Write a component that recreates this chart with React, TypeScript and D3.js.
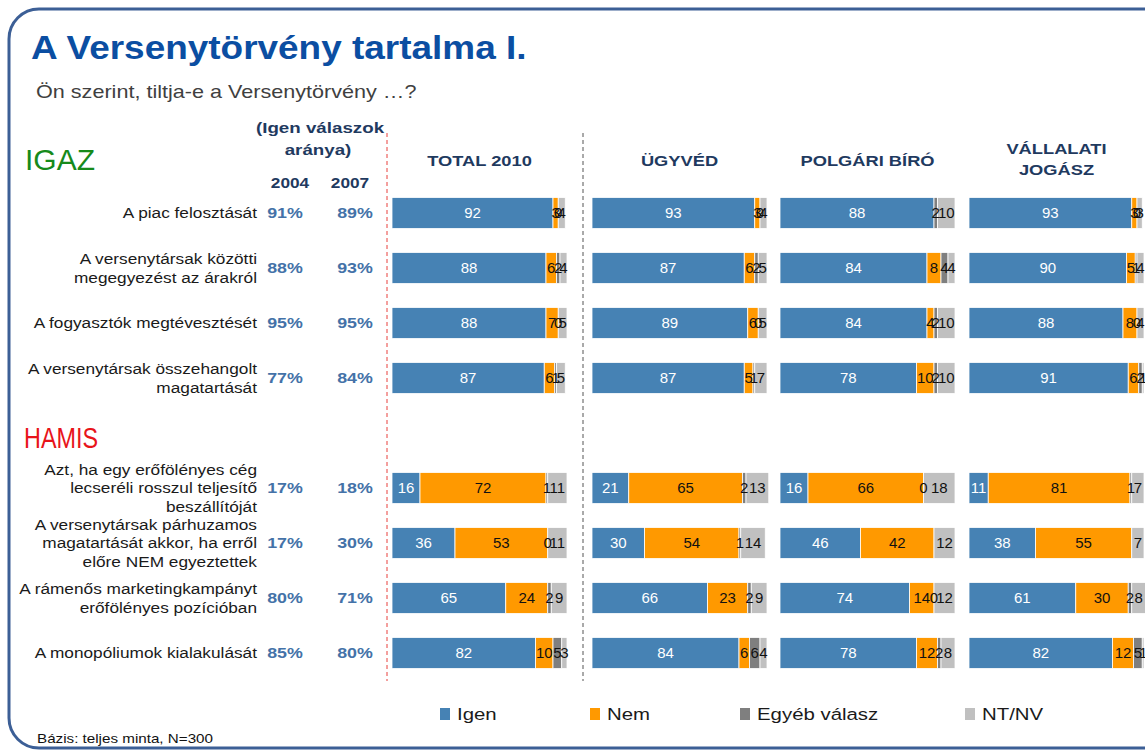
import * as d3 from 'd3';

// answer categories
const series = ['Igen', 'Nem', 'Egyéb válasz', 'NT/NV'];
const colors = ['#4682b4', '#ff9900', '#7f7f7f', '#c0c0c0'];

// statements (row labels), grouped IGAZ / HAMIS
const statements = [
  ['A piac felosztását'],
  ['A versenytársak közötti', 'megegyezést az árakról'],
  ['A fogyasztók megtévesztését'],
  ['A versenytársak összehangolt', 'magatartását'],
  ['Azt, ha egy erőfölényes cég', 'lecseréli rosszul teljesítő', 'beszállítóját'],
  ['A versenytársak párhuzamos', 'magatartását akkor, ha erről', 'előre NEM egyeztettek'],
  ['A rámenős marketingkampányt', 'erőfölényes pozícióban'],
  ['A monopóliumok kialakulását'],
];
const rowKeys = ['r1', 'r2', 'r3', 'r4', 'gap', 'r5', 'r6', 'r7', 'r8'];

const yes2004 = [91, 88, 95, 77, 17, 17, 80, 85];
const yes2007 = [89, 93, 95, 84, 18, 30, 71, 80];

const panels = [['TOTAL 2010'], ['ÜGYVÉD'], ['POLGÁRI BÍRÓ'], ['VÁLLALATI', 'JOGÁSZ']];

// [Igen, Nem, Egyéb, NT/NV] per statement, null = no label shown
const total2010 = [
  [92, 3, 0, 4], [88, 6, 2, 4], [88, 7, 0, 5], [87, 6, 1, 5],
  [16, 72, 1, 11], [36, 53, 0, 11], [65, 24, 2, 9], [82, 10, 5, 3],
];
const ugyved = [
  [93, 3, 0, 4], [87, 6, 2, 5], [89, 6, 0, 5], [87, 5, 1, 7],
  [21, 65, 2, 13], [30, 54, 1, 14], [66, 23, 2, 9], [84, 6, 6, 4],
];
const polgariBiro = [
  [88, null, 2, 10], [84, 8, 4, 4], [84, 4, 2, 10], [78, 10, 2, 10],
  [16, 66, 0, 18], [46, 42, null, 12], [74, 14, 0, 12], [78, 12, 2, 8],
];
const vallalatiJogasz = [
  [93, 3, 0, 3], [90, 5, 1, 4], [88, 8, 0, 4], [91, 6, 2, 1],
  [11, 81, 1, 7], [38, 55, null, 7], [61, 30, 2, 8], [82, 12, 5, 1],
];
const panelData = [total2010, ugyved, polgariBiro, vallalatiJogasz];

const FONT = 'Arial, "Liberation Sans", sans-serif';
const NAVY = '#1f3a5f';
const PCT = '#4472a8';
const SX = 1.2; // slide text is stretched horizontally

// stretched slide text
function T({ x, y, sx = SX, anchor = 'start', children, ...rest }: any) {
  return (
    <text transform={`translate(${x},${y}) scale(${sx},1)`} textAnchor={anchor} {...rest}>
      {children}
    </text>
  );
}

export default function App() {
  const W = 1145;
  const H = 753;
  const panelLeft = [392, 592, 780, 969];
  const panelW = 175;

  const y = d3.scaleBand<string>().domain(rowKeys).range([185.5, 680.5]).paddingInner(0.436).paddingOuter(0.218);
  const x = d3.scaleLinear().domain([0, 100]).range([0, panelW]);
  const rowY = (i: number) => {
    const key = rowKeys.filter((k) => k !== 'gap')[i];
    return (y(key) as number) + y.bandwidth() / 2;
  };

  const legendX = [440, 590, 740, 965];

  return (
    <div style={{ position: 'absolute', left: 0, top: 0 }}>
      <svg width={W} height={H} style={{ display: 'block', fontFamily: FONT }}>
        <rect x={0} y={0} width={W} height={H} fill="#fff" />
        <rect x={9} y={9} width={1165} height={739} rx={30} fill="none" stroke="#3c5f96" strokeWidth={3} />

        <T x={31} y={59} sx={1.12} fontSize={33} fontWeight="bold" fill="#0b4ea2">A Versenytörvény tartalma I.</T>
        <T x={36} y={98} fontSize={18} fill="#404040">Ön szerint, tiltja-e a Versenytörvény …?</T>

        <T x={320} y={133} sx={1.25} anchor="middle" fontSize={15} fontWeight="bold" fill={NAVY}>(Igen válaszok</T>
        <T x={318} y={155} sx={1.25} anchor="middle" fontSize={15} fontWeight="bold" fill={NAVY}>aránya)</T>
        <T x={290} y={188} sx={1.15} anchor="middle" fontSize={15} fontWeight="bold" fill={NAVY}>2004</T>
        <T x={350} y={188} sx={1.15} anchor="middle" fontSize={15} fontWeight="bold" fill={NAVY}>2007</T>

        <T x={25} y={170} sx={1.0} fontSize={30} fill="#168a1a">IGAZ</T>
        <T x={24} y={448} sx={0.78} fontSize={30} fill="#e8141a">HAMIS</T>

        <line x1={387} x2={387} y1={133} y2={681} stroke="#e8413c" strokeWidth={1} strokeDasharray="4,3" />
        <line x1={583} x2={583} y1={133} y2={681} stroke="#555" strokeWidth={1} strokeDasharray="4,3" />

        {panels.map((p, pi) => {
          const cx = panelLeft[pi] + panelW / 2;
          return p.map((t, li) => (
            <T key={`h${pi}${li}`} x={cx} y={p.length > 1 ? 154 + li * 21 : 166} sx={1.22} anchor="middle"
              fontSize={15} fontWeight="bold" fill={NAVY}>
              {t}
            </T>
          ));
        })}

        {statements.map((lines, i) => {
          const cy = rowY(i);
          const lh = 18.5;
          const y0 = cy - ((lines.length - 1) * lh) / 2;
          return (
            <g key={`s${i}`}>
              {lines.map((l, li) => (
                <T key={li} x={257} y={y0 + li * lh} sx={1.15} anchor="end" dy="0.35em" fontSize={15} fill="#1a1a1a">
                  {l}
                </T>
              ))}
              <T x={285} y={cy} sx={1.15} anchor="middle" dy="0.35em" fontSize={15.5} fontWeight="bold" fill={PCT}>{yes2004[i]}%</T>
              <T x={355} y={cy} sx={1.15} anchor="middle" dy="0.35em" fontSize={15.5} fontWeight="bold" fill={PCT}>{yes2007[i]}%</T>
            </g>
          );
        })}

        {panelData.map((rows, pi) => (
          <g key={`p${pi}`} transform={`translate(${panelLeft[pi]},0)`}>
            {rows.map((vals, ri) => {
              const cy = rowY(ri);
              const top = cy - y.bandwidth() / 2;
              let acc = 0;
              const segs = vals.map((v, si) => {
                const start = acc;
                acc += v ?? 0;
                return { v, si, start, end: acc };
              });
              return (
                <g key={ri}>
                  {segs.map((s) => (
                    <rect key={`r${s.si}`} x={x(s.start)} y={top} width={Math.max(0, x(s.end) - x(s.start))} height={y.bandwidth()}
                      fill={colors[s.si]} stroke="#fff" strokeWidth={0.8} />
                  ))}
                  {segs.map((s) =>
                    s.v === null ? null : (
                      <text key={`t${s.si}`} x={x((s.start + s.end) / 2)} y={cy} dy="0.35em" fontSize={15} textAnchor="middle"
                        fill={s.si === 0 ? '#fff' : '#111'}>
                        {s.v}
                      </text>
                    )
                  )}
                </g>
              );
            })}
          </g>
        ))}

        {series.map((s, i) => (
          <g key={`l${i}`} transform={`translate(${legendX[i]},714)`}>
            <rect x={0} y={-6} width={10} height={12} fill={colors[i]} />
            <T x={17} y={0} dy="0.35em" fontSize={17} fill="#1a1a1a">{s}</T>
          </g>
        ))}

        <T x={37} y={743} sx={1.17} fontSize={13} fill="#111">Bázis: teljes minta, N=300</T>
      </svg>
    </div>
  );
}
